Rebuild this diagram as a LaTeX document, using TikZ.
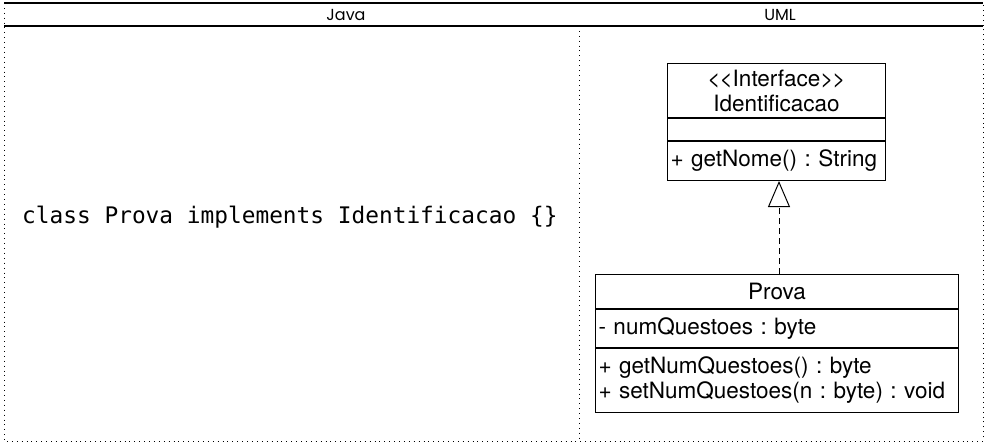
\documentclass[tikz,border=0pt]{standalone}
\usepackage{fontspec}
\setmainfont{TeX Gyre Heros}
\newfontfamily\hdrfont{Poppins}
\newfontfamily\codefont{DejaVu Sans Mono}
\usetikzlibrary{arrows.meta}
\frenchspacing
\tikzset{
  frameline/.style={line width=1.1pt},
  dotline/.style={line width=0.9pt, dash pattern=on 0.9pt off 4pt},
  hdr/.style={font=\hdrfont\fontsize{16}{18}\selectfont},
  umlbox/.style={draw, line width=1pt, inner sep=3pt, font=\frenchspacing\fontsize{22.5}{25}\selectfont},
  realize/.style={line width=1pt, dash pattern=on 6pt off 4pt, -{Triangle[open, width=22pt, length=26pt, line width=1pt]}}
}
\begin{document}
\begin{tikzpicture}[x=1pt,y=-1pt]
\useasboundingbox (0,0) rectangle (986,444);
% frame
\coordinate (tl) at (4,3);
\coordinate (tr) at (983,3);
\coordinate (hl) at (4,26);
\coordinate (hr) at (983,26);
\coordinate (bl) at (4,441);
\coordinate (br) at (983,441);
\coordinate (dt) at (579,26);
\coordinate (db) at (579,441);
\draw[frameline] (tl) -- (tr);
\draw[frameline] (hl) -- (hr);
\draw[dotline] (tl) -- (bl) -- (br) -- (tr);
\draw[dotline] (dt) -- (db);
\node[hdr] (java) at (346,14.5) {Java};
\node[hdr] (uml) at (780,14.5) {UML};
% code
\node[anchor=west, inner sep=0pt, font=\codefont\fontsize{22.8}{26}\selectfont] (code) at (22,217) {class Prova implements Identificacao \{\}};
% interface
\node[umlbox, anchor=north west, minimum width=218pt, minimum height=54pt, align=center] (itop) at (667,63) {<\kern-1pt<Interface>\kern-1pt>\\Identificacao};
\node[umlbox, anchor=north west, minimum width=218pt, minimum height=22pt] (imid) at (itop.south west) {};
\node[umlbox, anchor=north west, minimum width=218pt, minimum height=39pt, text width=212pt, align=left] (ibot) at (imid.south west) {+ getNome() : String};
% class
\node[umlbox, anchor=north west, minimum width=363pt, minimum height=34pt] (ptop) at (595,274) {Prova};
\node[umlbox, anchor=north west, minimum width=363pt, minimum height=38pt, text width=357pt, align=left] (pmid) at (ptop.south west) {- numQuestoes : byte};
\node[umlbox, anchor=north west, minimum width=363pt, minimum height=64pt, text width=357pt, align=left] (pbot) at (pmid.south west) {+ getNumQuestoes() : byte\\+ setNumQuestoes(n : byte) : void};
\coordinate (pa) at ([xshift=2pt]ptop.north);
\coordinate (ia) at ([xshift=1pt]ibot.south);
\draw[realize] (pa) -- (pa |- ia);
\end{tikzpicture}
\end{document}
